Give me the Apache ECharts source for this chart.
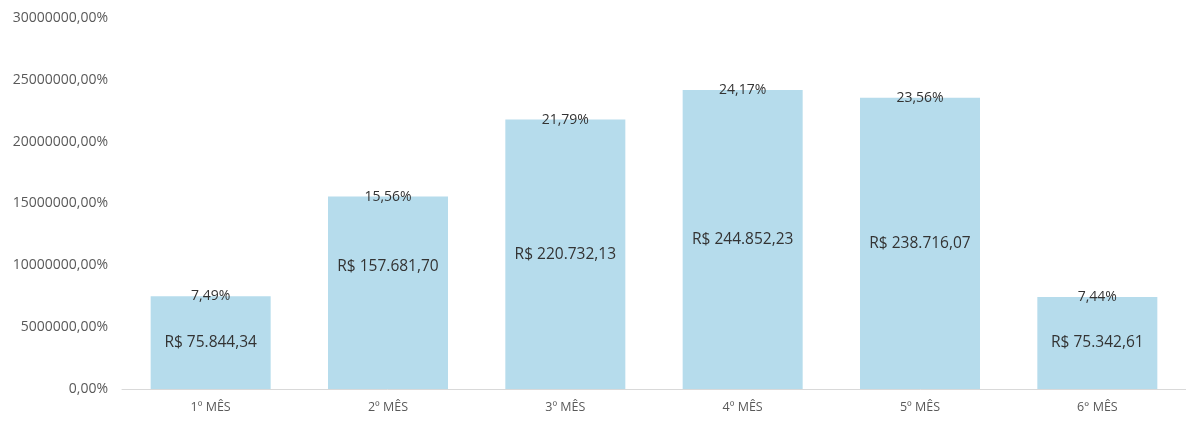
<!DOCTYPE html>
<html>
<head>
<meta charset="utf-8">
<script src="https://cdn.jsdelivr.net/npm/echarts@6/dist/echarts.min.js"></script>
<style>html,body{margin:0;padding:0;background:#fff;}#c{width:1186px;height:421px;}</style>
</head>
<body>
<div id="c"></div>
<script>
const categories = ['1º MÊS', '2º MÊS', '3º MÊS', '4º MÊS', '5º MÊS', '6° MÊS'];
const percentValues = [7.49, 15.56, 21.79, 24.17, 23.56, 7.44];
const reaisValues = [75844.34, 157681.70, 220732.13, 244852.23, 238716.07, 75342.61];
const reaisLabelOffsets = [[0, 0], [0, -26], [0, 0], [0, 0], [0, 0], [0, 0]];

function fmtBR(v) {
  const parts = v.toFixed(2).split('.');
  parts[0] = parts[0].replace(/\B(?=(\d{3})+(?!\d))/g, '.');
  return parts.join(',');
}
const barValues = percentValues.map(p => p * 1000000);
const font = 'Open Sans';

const chart = echarts.init(document.getElementById('c'));
chart.setOption({
  animation: false,
  grid: { left: 122, width: 1072, top: 18, bottom: 32 },
  xAxis: {
    type: 'category',
    data: categories,
    axisLine: { lineStyle: { color: '#d9d9d9' } },
    axisTick: { show: false },
    axisLabel: { color: '#595959', fontFamily: font, fontSize: 12.5, margin: 12 }
  },
  yAxis: {
    type: 'value',
    min: 0, max: 30000000, interval: 5000000,
    splitLine: { show: false },
    axisLine: { show: false },
    axisTick: { show: false },
    axisLabel: {
      color: '#595959', fontFamily: font, fontSize: 14, margin: 14,
      formatter: v => v + ',00%'
    }
  },
  series: [
    {
      type: 'bar',
      data: barValues,
      barWidth: 120,
      itemStyle: { color: '#b6dcec' },
      label: {
        show: true,
        position: ['50%', 0],
        align: 'center',
        verticalAlign: 'middle',
        color: '#333333',
        fontFamily: font,
        fontSize: 14,
        formatter: p => fmtBR(percentValues[p.dataIndex]) + '%'
      }
    },
    {
      type: 'bar',
      data: barValues.map((v, i) => ({
        value: v,
        label: { offset: reaisLabelOffsets[i] }
      })),
      barWidth: 120,
      barGap: '-100%',
      itemStyle: { color: 'rgba(0,0,0,0)' },
      label: {
        show: true,
        position: 'inside',
        color: '#333333',
        fontFamily: font,
        fontSize: 15.5,
        formatter: p => 'R$ ' + fmtBR(reaisValues[p.dataIndex])
      }
    }
  ]
});
</script>
</body>
</html>
